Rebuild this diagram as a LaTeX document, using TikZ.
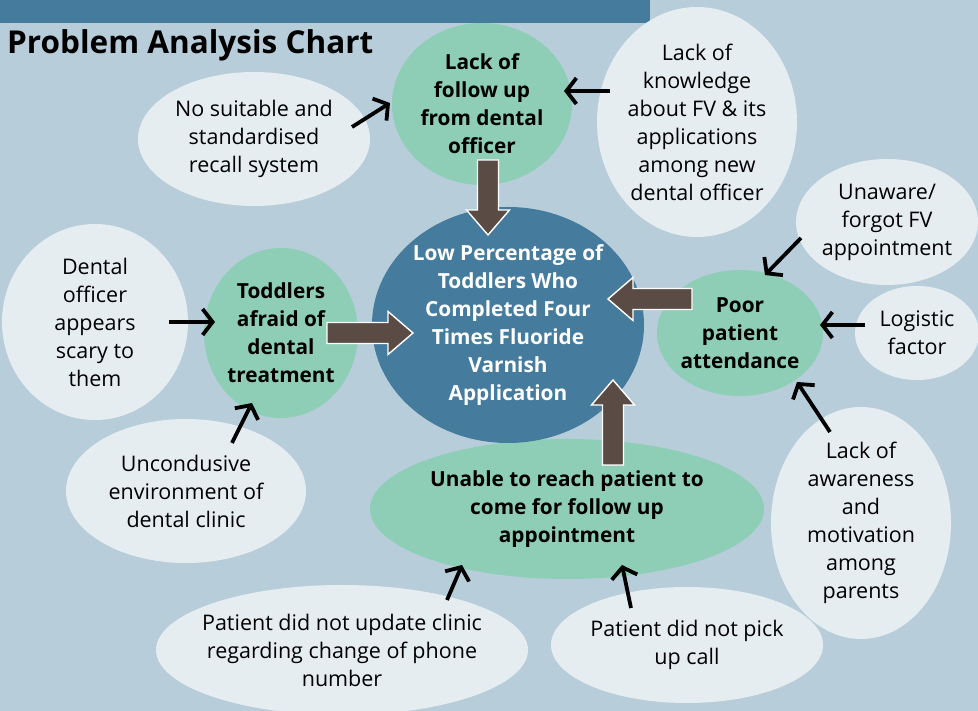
\documentclass[tikz,border=0pt]{standalone}
\usepackage{fontspec}
\setmainfont{Open Sans}
\usepackage{xcolor}
\usetikzlibrary{shapes,positioning,calc,arrows.meta}

\definecolor{bgblue}{HTML}{B7CDDA}
\definecolor{deepblue}{HTML}{457B9D}
\definecolor{mint}{HTML}{8FCEB6}
\definecolor{pale}{HTML}{E6EDF1}
\definecolor{arrowbrown}{HTML}{5A4C45}

\tikzset{
    bubble/.style 2 args={ellipse, fill=pale, inner sep=-14pt, align=center,
        minimum width=#1pt, minimum height=#2pt, font=\fontsize{21.5}{28}\selectfont},
    cause/.style 2 args={bubble={#1}{#2}, fill=mint, font=\fontsize{20.8}{28}\selectfont\bfseries},
    thinarr/.style={-{Straight Barb[length=10pt,width=26pt]}, line width=3.8pt, black},
    fatarrow/.pic={
        \draw[fill=arrowbrown, draw=white, line width=1.4pt]
            (0,-10.5) -- (#1-25,-10.5) -- (#1-25,-21.5) -- (#1,0)
            -- (#1-25,21.5) -- (#1-25,10.5) -- (0,10.5) -- cycle;
    }
}

\begin{document}
\begin{tikzpicture}[x=1pt, y=1pt]
    % Background
    \fill[bgblue] (0,0) rectangle (978,711);
    \useasboundingbox (0,0) rectangle (978,711);
    \fill[deepblue] (0,688) rectangle (650,711);
    \node[anchor=west, inner sep=0pt, font=\fontsize{31.5}{36}\selectfont\bfseries] (title) at (7,666) {Problem Analysis Chart};

    % Outer bubbles
    \node[bubble={232}{134}] (recall) at (254,572) {No suitable and\\standardised\\recall system};
    \node[bubble={200}{230}] (knowledge) at (697,589) {Lack of\\knowledge\\about FV \& its\\applications\\among new\\dental officer};
    \node[bubble={182}{126}] (unaware) at (887,489) {Unaware/\\forgot FV\\appointment};
    \node[bubble={124}{94}] (logistic) at (917,378) {Logistic\\factor};
    \node[bubble={180}{232}] (awareness) at (861,188) {Lack of\\awareness\\and\\motivation\\among\\parents};
    \node[bubble={372}{130}] (update) at (342,61) {Patient did not update clinic\\regarding change of phone\\number};
    \node[bubble={272}{116}] (pickup) at (687,66) {Patient did not pick\\up call};
    \node[bubble={186}{196}] (scary) at (95,389) {Dental\\officer\\appears\\scary to\\them};
    \node[bubble={240}{144}] (uncond) at (186,220) {Uncondusive\\environment of\\dental clinic};

    % Main causes
    \node[cause={180}{162}] (follow) at (482,607) {Lack of\\follow up\\from dental\\officer};
    \node[cause={166}{126}] (poor) at (740,378) {Poor\\patient\\attendance};
    \node[cause={394}{140}] (unable) at (567,202) {Unable to reach patient to\\come for follow up\\appointment};
    \node[cause={154}{170}] (afraid) at (281,378) {Toddlers\\afraid of\\dental\\treatment};

    % Problem
    \node[bubble={272}{236}, fill=deepblue, text=white, font=\fontsize{20.8}{28}\selectfont\bfseries] (low) at (508,386)
        {Low Percentage of\\Toddlers Who\\Completed Four\\Times Fluoride\\Varnish\\Application};

    % Fat arrows into the problem
    \pic[rotate=-90] (downarr) at (488,551) {fatarrow=75};
    \pic[rotate=180] (leftarr) at (692,412) {fatarrow=84};
    \pic[rotate=90] (uparr) at (613,246) {fatarrow=85};
    \pic (rightarr) at (327,378) {fatarrow=86};

    % Thin arrows ends
    \coordinate (recall-out) at (352,584);   \coordinate (follow-w) at (390,608);
    \coordinate (know-out) at (610,620);     \coordinate (follow-e) at (564,620);
    \coordinate (unaware-out) at (801,473);  \coordinate (poor-n) at (765,436);
    \coordinate (logistic-out) at (865,386); \coordinate (poor-e) at (820,386);
    \coordinate (aware-out) at (830,279);    \coordinate (poor-se) at (797,329);
    \coordinate (scary-out) at (169,389);    \coordinate (afraid-w) at (215,389);
    \coordinate (uncond-out) at (232,268);   \coordinate (afraid-s) at (252,308);
    \coordinate (update-out) at (447,111);   \coordinate (unable-sw) at (462,146);
    \coordinate (pickup-out) at (631,103);   \coordinate (unable-s) at (622,146);

    % Thin arrows
    \draw[thinarr] (recall-out) -- (follow-w);
    \draw[thinarr] (know-out) -- (follow-e);
    \draw[thinarr] (unaware-out) -- (poor-n);
    \draw[thinarr] (logistic-out) -- (poor-e);
    \draw[thinarr] (aware-out) -- (poor-se);
    \draw[thinarr] (scary-out) -- (afraid-w);
    \draw[thinarr] (uncond-out) -- (afraid-s);
    \draw[thinarr] (update-out) -- (unable-sw);
    \draw[thinarr] (pickup-out) -- (unable-s);
\end{tikzpicture}
\end{document}
